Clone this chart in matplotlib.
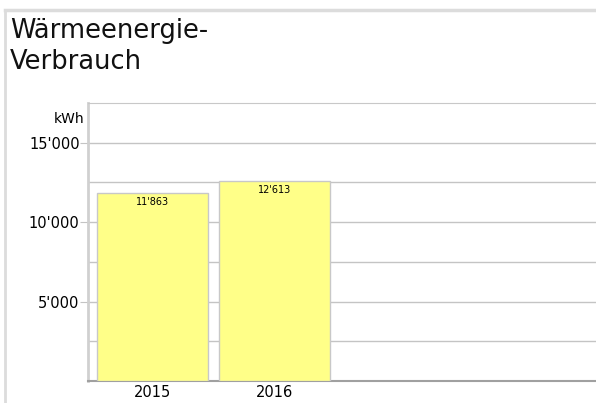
import numpy as np
import matplotlib.pyplot as plt
from matplotlib.lines import Line2D
from matplotlib.ticker import FuncFormatter

years = ["2015", "2016"]
values = [11863, 12613]
n_slots = 4  # chart leaves room for further years

def fmt(v, pos=None):
    return "{:,.0f}".format(v).replace(",", "'")

fig = plt.figure(figsize=(5.96, 4.03), dpi=100)
W, H = 596, 403

# outer frame of the panel (top and left only visible)
fig.add_artist(Line2D([5 / W, 1], [1 - 10 / H, 1 - 10 / H], transform=fig.transFigure,
                      color="#dcdcdc", linewidth=2.5))
fig.add_artist(Line2D([5 / W, 5 / W], [0, 1 - 10 / H], transform=fig.transFigure,
                      color="#dcdcdc", linewidth=2))

fig.text(10 / W, 1 - 18 / H, "Wärmeenergie-\nVerbrauch", ha="left", va="top",
         fontsize=18.5, color="#111111", linespacing=1.25)

ax = fig.add_axes([88 / W, 1 - 381 / H, (596 - 88) / W, (381 - 103) / H])
x = np.arange(len(years))
ax.bar(x, values, width=0.91, color="#ffff88", edgecolor="#c8c8c8",
       linewidth=1, zorder=3)
for xi, v in zip(x, values):
    ax.text(xi, v - 250, fmt(v), ha="center", va="top", fontsize=7, zorder=4)

ax.set_xlim(-0.53, n_slots - 0.36)
ax.set_ylim(0, 17500)
ax.set_yticks([5000, 10000, 15000])
ax.set_yticks([2500, 7500, 12500], minor=True)
ax.yaxis.set_major_formatter(FuncFormatter(fmt))
ax.grid(axis="y", which="both", color="#c4c4c4", linewidth=1, zorder=0)
ax.tick_params(axis="y", which="major", length=6, color="#c4c4c4", labelsize=10.5,
               pad=0)
ax.tick_params(axis="y", which="minor", length=0)
ax.set_xticks(x)
ax.set_xticklabels(years)
ax.tick_params(axis="x", length=0, labelsize=10.5, pad=3)
ax.spines["right"].set_visible(False)
ax.spines["top"].set_color("#c8c8c8")
ax.spines["left"].set_color("#d0d0d0")
ax.spines["left"].set_linewidth(2)
ax.spines["bottom"].set_color("#a0a0a0")
ax.spines["bottom"].set_linewidth(1.5)
ax.text(-0.008, 17500 - 1000, "kWh", transform=ax.get_yaxis_transform(),
        ha="right", va="center", fontsize=10)

fig.savefig("out.png", dpi=100)
